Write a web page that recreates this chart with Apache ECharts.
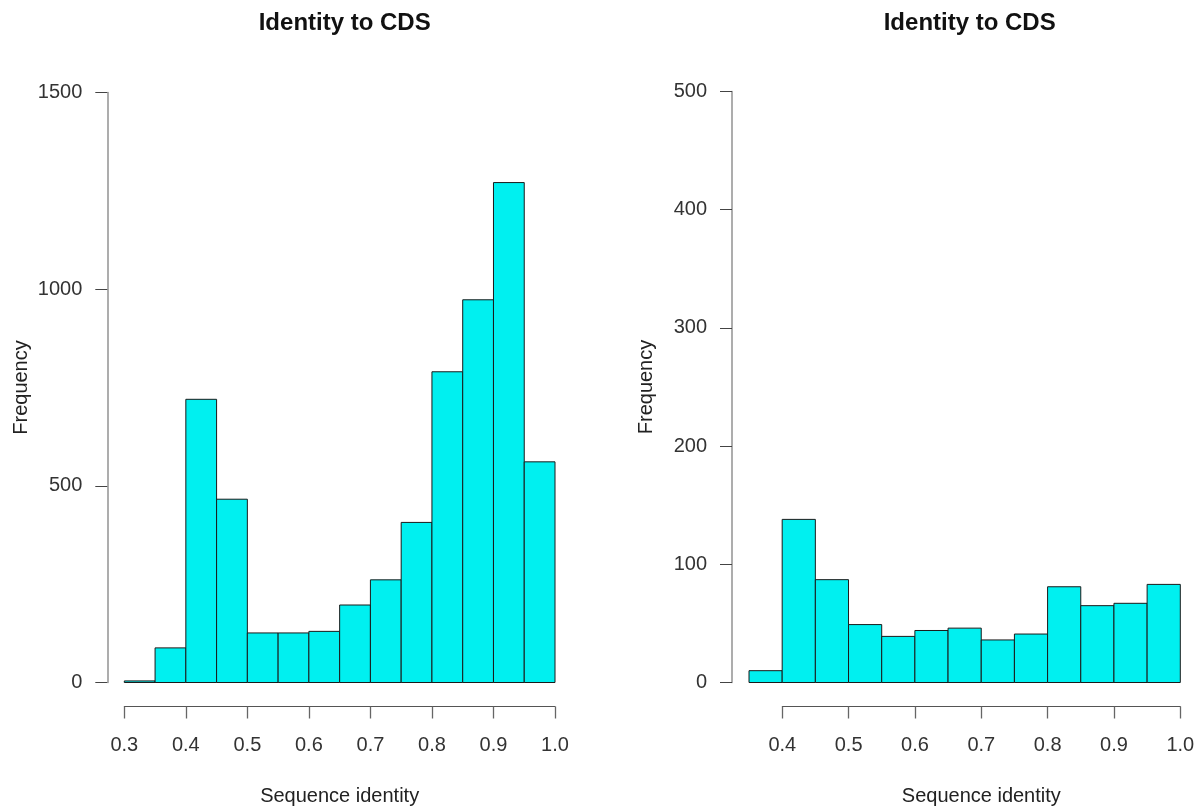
<!DOCTYPE html>
<html>
<head>
<meta charset="utf-8">
<title>Identity to CDS</title>
<script src="https://cdn.jsdelivr.net/npm/echarts@6/dist/echarts.min.js"></script>
<style>
  html, body { margin: 0; padding: 0; background: #ffffff; }
  #chart { width: 1202px; height: 812px; }
</style>
</head>
<body>
<div id="chart"></div>
<script>
// Histogram bins (bin edges) and frequencies for the two panels
const leftBreaks = [0.30, 0.35, 0.40, 0.45, 0.50, 0.55, 0.60, 0.65, 0.70, 0.75, 0.80, 0.85, 0.90, 0.95, 1.00];
const leftCounts = [4, 88, 720, 466, 126, 126, 130, 197, 261, 407, 790, 973, 1271, 561];

const rightBreaks = [0.35, 0.40, 0.45, 0.50, 0.55, 0.60, 0.65, 0.70, 0.75, 0.80, 0.85, 0.90, 0.95, 1.00];
const rightCounts = [10, 138, 87, 49, 39, 44, 46, 36, 41, 81, 65, 67, 83];

const panelTitle = 'Identity to CDS';
const xTitle = 'Sequence identity';
const yTitle = 'Frequency';

const FONT = '"Liberation Sans", Arial, Helvetica, sans-serif';
const BAR_FILL = '#00F0F0';
const BAR_EDGE = '#1a1a1a';

function toBins(breaks, counts) {
  return counts.map((c, i) => [breaks[i], breaks[i + 1], c]);
}

function renderBin(params, api) {
  const x0 = api.value(0), x1 = api.value(1), y = api.value(2);
  const pTop = api.coord([x0, y]);
  const pBot = api.coord([x1, 0]);
  return {
    type: 'rect',
    shape: { x: pTop[0], y: pTop[1], width: pBot[0] - pTop[0], height: pBot[1] - pTop[1] },
    style: { fill: BAR_FILL, stroke: BAR_EDGE, lineWidth: 1 }
  };
}

const labelStyle = { color: '#333', fontFamily: FONT, fontSize: 20 };

function xAxisShown(gridIndex, min, max) {
  return {
    type: 'value', gridIndex, min, max, interval: 0.1,
    position: 'bottom',
    offset: 24,
    splitLine: { show: false },
    axisLine: { show: true, onZero: false, lineStyle: { color: '#555', width: 1 } },
    axisTick: { show: true, length: 12, lineStyle: { color: '#666', width: 1.3 } },
    axisLabel: Object.assign({ margin: 29, formatter: v => v.toFixed(1) }, labelStyle),
    name: xTitle, nameLocation: 'middle', nameGap: 80,
    nameTextStyle: { color: '#222', fontFamily: FONT, fontSize: 20 }
  };
}

function yAxisShown(gridIndex, max, interval) {
  return {
    type: 'value', gridIndex, min: 0, max, interval,
    position: 'left',
    offset: 17,
    splitLine: { show: false },
    axisLine: { show: true, onZero: false, lineStyle: { color: '#999', width: 1.6 } },
    axisTick: { show: true, length: 12, lineStyle: { color: '#444', width: 1 } },
    axisLabel: Object.assign({ margin: 25, formatter: v => String(v) }, labelStyle),
    name: yTitle, nameLocation: 'middle', nameGap: 76, nameRotate: 90,
    nameTextStyle: { color: '#222', fontFamily: FONT, fontSize: 20 }
  };
}

function hiddenAxis(gridIndex, min, max) {
  return { type: 'value', gridIndex, min, max, show: false, splitLine: { show: false } };
}

const chart = echarts.init(document.getElementById('chart'), null, { renderer: 'canvas' });

chart.setOption({
  backgroundColor: '#ffffff',
  animation: false,
  title: [
    { text: panelTitle, left: 339.7, top: 6, textAlign: 'center',
      textStyle: { color: '#111', fontFamily: FONT, fontSize: 24, fontWeight: 'bold' } },
    { text: panelTitle, left: 964.7, top: 6, textAlign: 'center',
      textStyle: { color: '#111', fontFamily: FONT, fontSize: 24, fontWeight: 'bold' } }
  ],
  grid: [
    // left panel
    { left: 124.3, top: 92.5, width: 430.7, height: 590 },
    // right panel: bars
    { left: 749, top: 91.5, width: 431.3, height: 591 },
    // right panel: labelled x axis (starts at 0.4)
    { left: 782.3, top: 91.5, width: 398, height: 591 }
  ],
  xAxis: [
    xAxisShown(0, 0.3, 1.0),
    hiddenAxis(1, 0.35, 1.0),
    xAxisShown(2, 0.4, 1.0)
  ],
  yAxis: [
    yAxisShown(0, 1500, 500),
    yAxisShown(1, 500, 100),
    hiddenAxis(2, 0, 500)
  ],
  series: [
    { type: 'custom', xAxisIndex: 0, yAxisIndex: 0, renderItem: renderBin,
      encode: { x: [0, 1], y: 2 }, data: toBins(leftBreaks, leftCounts) },
    { type: 'custom', xAxisIndex: 1, yAxisIndex: 1, renderItem: renderBin,
      encode: { x: [0, 1], y: 2 }, data: toBins(rightBreaks, rightCounts) }
  ]
});
</script>
</body>
</html>
